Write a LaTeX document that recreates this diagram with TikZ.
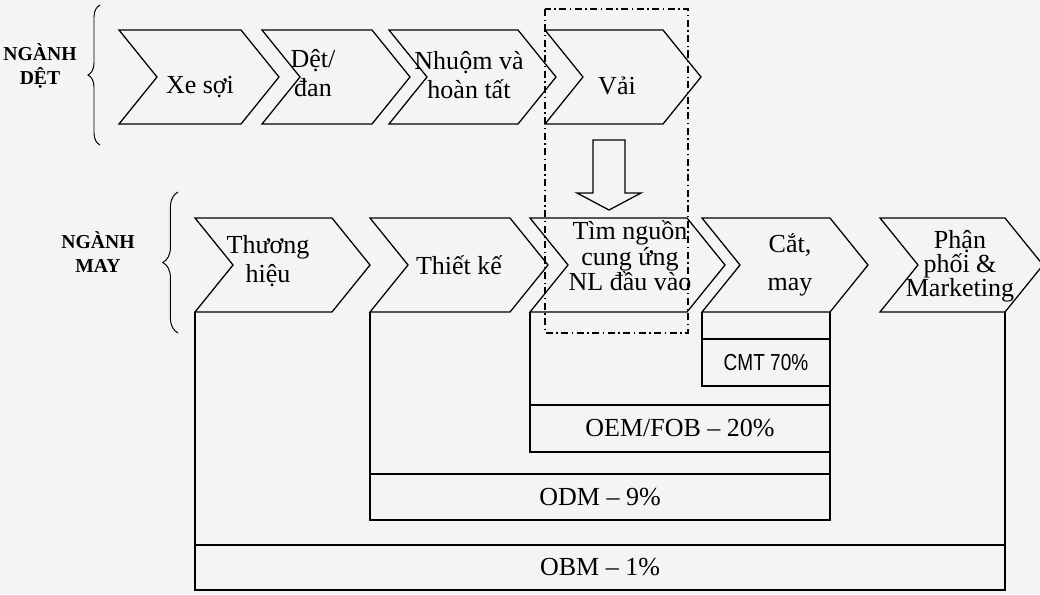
\documentclass[tikz,border=0pt]{standalone}
\usepackage{fontspec}
\setmainfont{Liberation Serif}
\newfontfamily\cmtfont[FakeStretch=0.82]{Liberation Sans}
\usepackage{tikz}
\usetikzlibrary{calc,decorations.pathreplacing}
\definecolor{nenGiay}{HTML}{F3F5F3}
\newcommand{\chevron}[4]{%
  \draw[vien] (#2,#4) -- (#3,#4) -- ++(38,47) -- ++(-38,47) -- (#2,#4+94) -- ++(38,-47) -- cycle;
  \coordinate (#1-bl) at (#2,#4+94);
  \coordinate (#1-br) at (#3,#4+94);}

\begin{document}
\begin{tikzpicture}[x=0.025cm,y=-0.025cm,
  vien/.style={line width=0.9pt,line join=miter},
  chu/.style={font=\fontsize{18.5}{21}\selectfont,align=center,inner sep=0pt},
  nhan/.style={font=\bfseries\fontsize{14}{17}\selectfont,align=center,inner sep=0pt},
  dai/.style 2 args={draw,vien,minimum width=#1*0.025cm,minimum height=#2*0.025cm,
    inner sep=0pt,outer sep=0pt,font=\fontsize{18.5}{21}\selectfont},
  ngoac/.style={line width=0.7pt,decorate,decoration={brace,amplitude=#1}}]
\useasboundingbox (0,0) rectangle (1040,594);
\fill[nenGiay] (0,0) rectangle (1040,594);

\chevron{xesoi}{119}{241}{30}
\chevron{detdan}{262}{372}{30}
\chevron{nhuom}{389}{518}{30}
\chevron{vai}{545}{663}{30}
\node[chu] (txesoi) at (200,87) {Xe sợi};
\node[chu] (tdetdan) at (313,73) {Dệt/\\đan};
\node[chu] (tnhuom) at (469,75) {Nhuộm và\\hoàn tất};
\node[chu] (tvai) at (617,86) {Vải};

\chevron{thuonghieu}{195}{332}{218}
\chevron{thietke}{370}{510}{218}
\chevron{timnguon}{530}{687}{218}
\chevron{catmay}{702}{830}{218}
\chevron{phanphoi}{880}{1005}{218}
\node[chu] (tthuonghieu) at (268,261) {Thương\\hiệu};
\node[chu] (tthietke) at (459,265) {Thiết kế};
\node[chu,font=\fontsize{18.5}{18}\selectfont] (ttimnguon) at (630,256) {Tìm nguồn\\cung ứng\\NL đầu vào};
\node[chu,font=\fontsize{18.5}{27}\selectfont] (tcatmay) at (790,265) {Cắt,\\may};
\node[chu,font=\fontsize{18.5}{17}\selectfont] (tphanphoi) at (960,266) {Phận\\phối \&\\Marketing};

\node[nhan] (det) at (40,66) {NGÀNH\\DỆT};
\node[nhan] (may) at (98,252) {NGÀNH\\MAY};
\draw[ngoac=0.3cm] (100,145) -- (100,5);
\draw[ngoac=0.38cm] (178,333) -- (178,192);

\draw[vien,dash pattern=on 5pt off 2.5pt on 1pt off 2.5pt] (545,9) rectangle (688,333);
\draw[vien] (593,140) -- (625,140) -- (625,193) -- (641,193) -- (609,210)
  -- (577,193) -- (593,193) -- cycle;

\node[dai={810}{45}] (obm) at (600,567.5) {OBM – 1\%};
\node[dai={460}{46}] (odm) at (600,497) {ODM – 9\%};
\node[dai={300}{47}] (oem) at (680,428.5) {OEM/FOB – 20\%};
\node[dai={128}{47},font=\cmtfont\fontsize{16.5}{18}\selectfont] (cmt) at (766,362.5) {CMT 70\%};

\draw[vien] (thuonghieu-bl) -- (obm.north west);
\draw[vien] (phanphoi-br) -- (obm.north east);
\draw[vien] (thietke-bl) -- (odm.north west);
\draw[vien] (catmay-br) -- (odm.north east);
\draw[vien] (timnguon-bl) -- (oem.north west);
\draw[vien] (catmay-bl) -- (cmt.north west);
\end{tikzpicture}
\end{document}
